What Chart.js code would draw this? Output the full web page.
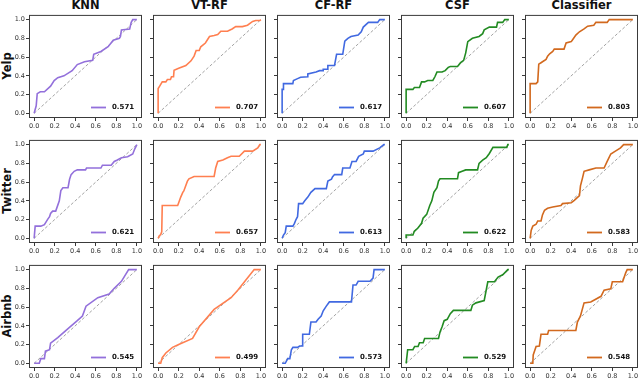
<!DOCTYPE html>
<html lang="en">
<head>
<meta charset="UTF-8">
<title>ROC curves per dataset and model</title>
<script src="https://cdn.jsdelivr.net/npm/chart.js"></script>
<style>
  body { margin: 0; background: #fff; font-family: "DejaVu Sans", sans-serif; }
  #wrap { position: relative; width: 640px; height: 379px; overflow: hidden; }
  .panel { position: absolute; }
  .title { position: absolute; font-weight: bold; font-size: 11.5px; line-height: 13px; text-align: center; color: #111; }
  .row-label { position: absolute; font-weight: bold; font-size: 11.5px; line-height: 13px; white-space: nowrap;
               transform: translate(-50%, -50%) rotate(-90deg); color: #111; }
</style>
</head>
<body>
<div id="wrap"></div>
<script>
// ---- data: [false positive rate, true positive rate] points ----
const models = ['KNN', 'VT-RF', 'CF-RF', 'CSF', 'Classifier'];
const datasetNames = ['Yelp', 'Twitter', 'Airbnb'];
const tickValues = [0, 0.2, 0.4, 0.6, 0.8, 1.0];
const diagonal = [[0, 0], [1, 1]];

const yelpAuc = [0.571, 0.707, 0.617, 0.607, 0.803];
const twitterAuc = [0.621, 0.657, 0.613, 0.622, 0.583];
const airbnbAuc = [0.545, 0.499, 0.573, 0.529, 0.548];

const yelpKnn = [[0,0],[0.02,0.08],[0.025,0.08],[0.03,0.21],[0.06,0.23],[0.1,0.23],[0.16,0.29],[0.195,0.35],[0.23,0.38],[0.29,0.40],[0.37,0.455],[0.42,0.52],[0.49,0.55],[0.57,0.565],[0.58,0.63],[0.65,0.66],[0.72,0.71],[0.77,0.78],[0.83,0.8],[0.84,0.82],[0.85,0.89],[0.93,0.9],[0.945,0.97],[0.96,1],[1,1]];
const yelpVtrf = [[0,0],[0,0.265],[0.015,0.29],[0.04,0.335],[0.075,0.335],[0.09,0.36],[0.12,0.36],[0.13,0.39],[0.15,0.39],[0.155,0.46],[0.2,0.48],[0.27,0.51],[0.32,0.56],[0.35,0.61],[0.37,0.67],[0.4,0.67],[0.415,0.71],[0.46,0.75],[0.5,0.82],[0.545,0.83],[0.58,0.84],[0.61,0.875],[0.675,0.875],[0.72,0.9],[0.755,0.925],[0.82,0.925],[0.87,0.94],[0.92,0.98],[0.95,0.99],[0.99,0.99],[1,1]];
const yelpCfrf = [[0,0],[0,0.255],[0.013,0.255],[0.013,0.317],[0.104,0.317],[0.11,0.35],[0.15,0.37],[0.18,0.385],[0.25,0.39],[0.25,0.42],[0.33,0.44],[0.365,0.455],[0.4,0.455],[0.4,0.47],[0.445,0.47],[0.445,0.51],[0.51,0.51],[0.53,0.63],[0.59,0.63],[0.61,0.77],[0.64,0.8],[0.67,0.82],[0.74,0.835],[0.77,0.87],[0.79,0.92],[0.84,0.97],[0.93,0.97],[0.95,1],[1,1]];
const yelpCsf = [[0,0],[0,0.255],[0.066,0.255],[0.08,0.275],[0.13,0.275],[0.15,0.335],[0.18,0.335],[0.21,0.35],[0.26,0.35],[0.28,0.39],[0.3,0.44],[0.35,0.44],[0.38,0.455],[0.41,0.49],[0.43,0.5],[0.5,0.5],[0.53,0.54],[0.56,0.565],[0.58,0.645],[0.6,0.765],[0.645,0.8],[0.71,0.82],[0.745,0.85],[0.76,0.89],[0.81,0.92],[0.88,0.92],[0.89,0.97],[0.94,0.97],[0.96,1],[1,1]];
const yelpClf = [[0,0],[0,0.317],[0.058,0.317],[0.074,0.335],[0.084,0.525],[0.106,0.54],[0.12,0.55],[0.155,0.575],[0.17,0.61],[0.19,0.635],[0.22,0.66],[0.235,0.685],[0.33,0.685],[0.35,0.75],[0.4,0.765],[0.41,0.78],[0.445,0.835],[0.48,0.87],[0.525,0.9],[0.56,0.93],[0.62,0.94],[0.64,0.97],[0.75,0.97],[0.77,1],[1,1]];

const twitterKnn = [[0,0],[0.01,0.13],[0.065,0.13],[0.1,0.145],[0.13,0.2],[0.15,0.23],[0.16,0.265],[0.18,0.29],[0.21,0.29],[0.245,0.4],[0.26,0.51],[0.28,0.54],[0.33,0.54],[0.345,0.63],[0.36,0.68],[0.39,0.715],[0.42,0.73],[0.5,0.73],[0.51,0.75],[0.65,0.75],[0.665,0.78],[0.75,0.78],[0.78,0.82],[0.81,0.835],[0.85,0.86],[0.91,0.87],[0.96,0.9],[0.98,0.955],[1,1]];
const twitterVtrf = [[0,0],[0.01,0.025],[0.025,0.04],[0.035,0.07],[0.04,0.35],[0.19,0.35],[0.2,0.38],[0.22,0.44],[0.24,0.49],[0.25,0.505],[0.285,0.61],[0.3,0.635],[0.35,0.66],[0.545,0.66],[0.56,0.75],[0.58,0.82],[0.63,0.835],[0.675,0.86],[0.71,0.875],[0.79,0.875],[0.84,0.93],[0.92,0.93],[0.97,0.965],[0.99,1],[1,1]];
const twitterCfrf = [[0,0],[0.013,0.035],[0.03,0.06],[0.04,0.13],[0.105,0.13],[0.12,0.16],[0.135,0.2],[0.15,0.23],[0.16,0.37],[0.2,0.37],[0.22,0.4],[0.25,0.44],[0.28,0.49],[0.32,0.53],[0.43,0.53],[0.445,0.61],[0.48,0.63],[0.49,0.655],[0.51,0.68],[0.58,0.68],[0.59,0.75],[0.66,0.75],[0.68,0.82],[0.72,0.82],[0.745,0.875],[0.79,0.9],[0.8,0.93],[0.885,0.93],[0.95,0.965],[0.99,1],[1,1]];
const twitterCsf = [[0,0],[0,0.035],[0.066,0.035],[0.08,0.075],[0.115,0.11],[0.15,0.16],[0.165,0.215],[0.2,0.255],[0.23,0.35],[0.25,0.4],[0.27,0.49],[0.3,0.54],[0.315,0.61],[0.33,0.635],[0.5,0.635],[0.51,0.7],[0.545,0.715],[0.58,0.73],[0.695,0.73],[0.71,0.8],[0.745,0.835],[0.78,0.86],[0.81,0.905],[0.845,0.97],[0.98,0.97],[0.99,1],[1,1]];
const twitterClf = [[0,0],[0.01,0.085],[0.026,0.13],[0.058,0.15],[0.074,0.185],[0.106,0.185],[0.12,0.25],[0.14,0.3],[0.17,0.32],[0.22,0.335],[0.3,0.35],[0.315,0.37],[0.4,0.38],[0.43,0.405],[0.48,0.455],[0.49,0.56],[0.51,0.645],[0.525,0.715],[0.575,0.73],[0.64,0.75],[0.72,0.75],[0.75,0.82],[0.785,0.9],[0.83,0.93],[0.88,0.965],[0.91,1],[1,1]];

const airbnbKnn = [[0,0],[0.05,0],[0.065,0.05],[0.1,0.05],[0.11,0.13],[0.15,0.145],[0.16,0.215],[0.23,0.275],[0.33,0.37],[0.42,0.455],[0.47,0.505],[0.505,0.61],[0.62,0.7],[0.73,0.74],[0.78,0.8],[0.85,0.875],[0.92,1],[1,1]];
const airbnbVtrf = [[0,0],[0.025,0],[0.04,0.06],[0.075,0.11],[0.14,0.17],[0.2,0.2],[0.335,0.265],[0.4,0.39],[0.545,0.575],[0.71,0.7],[0.775,0.78],[0.935,1],[1,1]];
const airbnbCfrf = [[0,0],[0.03,0],[0.055,0.05],[0.075,0.05],[0.09,0.145],[0.105,0.17],[0.15,0.17],[0.17,0.185],[0.195,0.185],[0.2,0.31],[0.265,0.31],[0.28,0.44],[0.33,0.44],[0.35,0.47],[0.38,0.505],[0.4,0.56],[0.43,0.61],[0.46,0.655],[0.675,0.655],[0.69,0.835],[0.72,0.835],[0.74,0.875],[0.855,0.875],[0.885,0.91],[0.895,1],[1,1]];
const airbnbCsf = [[0,0],[0.015,0.145],[0.066,0.145],[0.083,0.18],[0.116,0.18],[0.13,0.22],[0.166,0.22],[0.18,0.265],[0.315,0.265],[0.33,0.335],[0.35,0.39],[0.37,0.455],[0.4,0.47],[0.43,0.53],[0.46,0.565],[0.63,0.565],[0.645,0.62],[0.68,0.645],[0.76,0.67],[0.795,0.87],[0.86,0.87],[0.895,0.92],[0.94,0.945],[0.99,1],[1,1]];
const airbnbClf = [[0,0],[0.026,0],[0.03,0.09],[0.058,0.18],[0.09,0.185],[0.106,0.31],[0.17,0.31],[0.18,0.35],[0.445,0.35],[0.46,0.44],[0.49,0.505],[0.525,0.645],[0.59,0.655],[0.69,0.715],[0.72,0.78],[0.785,0.795],[0.8,0.87],[0.9,0.87],[0.93,0.965],[0.945,1],[1,1]];

const curves = [
  [yelpKnn, yelpVtrf, yelpCfrf, yelpCsf, yelpClf],
  [twitterKnn, twitterVtrf, twitterCfrf, twitterCsf, twitterClf],
  [airbnbKnn, airbnbVtrf, airbnbCfrf, airbnbCsf, airbnbClf]
];
const aucs = [yelpAuc, twitterAuc, airbnbAuc];

// ---- layout / style ----
const modelColors = ['#9370DB', '#FF7F50', '#4169E1', '#228B22', '#D2691E'];
const colLeft = [29, 153, 277, 401, 525];
const rowTop = [13, 138, 263];
const boxW = 113, boxH = 105;
const axisW = 28, axisH = 14, padTop = 3, padRight = 3;
const FONT = "'DejaVu Sans', sans-serif";

// frame around the plot area and the AUC legend in the lower right
const panelDecor = {
  id: 'panelDecor',
  afterDraw(chart, args, opts) {
    const { ctx, chartArea: a } = chart;
    ctx.save();
    ctx.strokeStyle = '#3a3a3a';
    ctx.lineWidth = 1;
    ctx.strokeRect(a.left + 0.5, a.top + 0.5, a.right - a.left - 1, a.bottom - a.top - 1);
    const ly = a.bottom - 10.5;
    ctx.strokeStyle = opts.color;
    ctx.lineWidth = 1.8;
    ctx.beginPath();
    ctx.moveTo(a.right - 51, ly);
    ctx.lineTo(a.right - 36, ly);
    ctx.stroke();
    ctx.fillStyle = '#111';
    ctx.font = 'bold 7px ' + FONT;
    ctx.textBaseline = 'middle';
    ctx.fillText(opts.label, a.right - 30, ly);
    ctx.restore();
  }
};

const wrap = document.getElementById('wrap');

models.forEach((m, c) => {
  const t = document.createElement('div');
  t.className = 'title';
  t.textContent = m;
  t.style.left = colLeft[c] + 'px';
  t.style.width = boxW + 'px';
  t.style.top = '-1px';
  wrap.appendChild(t);
});

datasetNames.forEach((d, r) => {
  const l = document.createElement('div');
  l.className = 'row-label';
  l.textContent = d;
  l.style.left = '7px';
  l.style.top = (rowTop[r] + boxH / 2) + 'px';
  wrap.appendChild(l);
});

function axis(showLabels) {
  return {
    type: 'linear',
    min: -0.05,
    max: 1.05,
    afterBuildTicks: s => { s.ticks = tickValues.map(v => ({ value: v })); },
    ticks: {
      callback: v => v.toFixed(1),
      font: { family: FONT, size: 6.5 },
      color: showLabels ? '#333' : 'rgba(0,0,0,0)',
      padding: 1,
      maxRotation: 0,
      autoSkip: false
    },
    grid: { drawOnChartArea: false, drawTicks: true, tickLength: 3, color: '#3a3a3a' },
    border: { display: false }
  };
}

for (let r = 0; r < 3; r++) {
  for (let c = 0; c < 5; c++) {
    const div = document.createElement('div');
    div.className = 'panel';
    const w = axisW + boxW + padRight, h = padTop + boxH + axisH;
    div.style.left = (colLeft[c] - axisW) + 'px';
    div.style.top = (rowTop[r] - padTop) + 'px';
    const cv = document.createElement('canvas');
    cv.width = w; cv.height = h;
    cv.style.width = w + 'px'; cv.style.height = h + 'px';
    div.appendChild(cv);
    wrap.appendChild(div);

    const xAxis = axis(true);
    xAxis.afterFit = s => { s.height = axisH; };
    const yAxis = axis(c === 0);
    yAxis.afterFit = s => { s.width = axisW; };

    new Chart(cv, {
      type: 'line',
      data: {
        datasets: [
          {
            data: curves[r][c].map(p => ({ x: p[0], y: p[1] })),
            borderColor: modelColors[c],
            borderWidth: 1.6,
            pointRadius: 0,
            tension: 0,
            fill: false,
            order: 0
          },
          {
            data: diagonal.map(p => ({ x: p[0], y: p[1] })),
            borderColor: '#8c8c8c',
            borderWidth: 0.8,
            borderDash: [3, 2],
            pointRadius: 0,
            fill: false,
            order: 1
          }
        ]
      },
      options: {
        responsive: false,
        animation: false,
        devicePixelRatio: 1,
        layout: { padding: { top: padTop, right: padRight, left: 0, bottom: 0 } },
        plugins: {
          legend: { display: false },
          tooltip: { enabled: false },
          panelDecor: { color: modelColors[c], label: aucs[r][c].toFixed(3) }
        },
        scales: { x: xAxis, y: yAxis }
      },
      plugins: [panelDecor]
    });
  }
}
</script>
</body>
</html>
